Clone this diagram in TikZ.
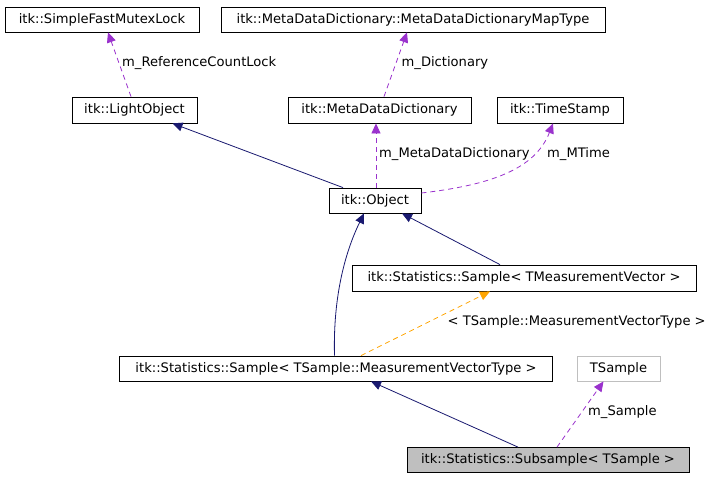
\documentclass[tikz,border=0pt]{standalone}
\usepackage{fontspec}
\setmainfont{DejaVu Sans}
\usetikzlibrary{arrows.meta,calc}
\definecolor{navyc}{HTML}{191970}
\definecolor{orch}{HTML}{9A32CD}
\definecolor{orng}{HTML}{FFA500}
\definecolor{grayc}{HTML}{BFBFBF}
\begin{document}
\begin{tikzpicture}[x=1pt,y=-1pt,
 box/.style={draw=black,line width=0.8pt,minimum height=25pt,inner sep=0pt,font=\fontsize{13.1}{15}\selectfont},
 lbl/.style={anchor=west,inner sep=0pt,font=\fontsize{13.1}{15}\selectfont},
 inh/.style={draw=navyc,line width=0.8pt,-{Triangle[length=10pt,width=9pt,fill=navyc]}},
 use/.style={draw=orch,line width=0.8pt,dash pattern=on 5pt off 4pt,-{Triangle[length=10pt,width=9pt,fill=orch]}},
 tmpl/.style={draw=orng,line width=0.8pt,dash pattern=on 5pt off 4pt,-{Triangle[length=10pt,width=9pt,fill=orng]}}]
\useasboundingbox[fill=white] (0,0) rectangle (713,477);

\node[box,minimum width=194pt] (sfml) at (102,19.5) {itk::SimpleFastMutexLock};
\node[box,minimum width=384pt] (mapt) at (413,19.5) {itk::MetaDataDictionary::MetaDataDictionaryMapType};
\node[box,minimum width=125pt,minimum height=26pt] (lo) at (134.5,110) {itk::LightObject};
\node[box,minimum width=183pt,minimum height=26pt] (mdd) at (379.5,110) {itk::MetaDataDictionary};
\node[box,minimum width=126pt,minimum height=26pt] (ts) at (560,110) {itk::TimeStamp};
\node[box,minimum width=92pt] (obj) at (375,200.5) {itk::Object};
\node[box,minimum width=344pt,minimum height=26pt] (smv) at (524,278) {itk::Statistics::Sample< TMeasurementVector >};
\node[box,minimum width=433pt] (stm) at (336,368.5) {itk::Statistics::Sample< TSample::MeasurementVectorType >};
\node[box,draw=grayc,minimum width=83pt] (tsam) at (618.5,368.5) {TSample};
\node[box,fill=grayc,minimum width=282pt] (sub) at (548,460) {itk::Statistics::Subsample< TSample >};

\draw[use] ($(lo.north)+(-3.5,0)$) -- ($(sfml.south)+(6,0)$);
\draw[use] ($(mdd.north)+(4.5,0)$) -- ($(mapt.south)+(-6,0)$);
\draw[use] ($(obj.north)+(1,0)$) -- ($(mdd.south)+(-3.5,0)$);
\draw[use] ($(obj.east)+(0,-7.5)$) .. controls +(69,-8) and +(-18,46) .. ($(ts.south)+(-7,0)$);
\draw[inh] ($(obj.north)+(-32,0)$) -- ($(lo.south)+(38,0)$);
\draw[inh] ($(smv.north)+(-24,0)$) -- ($(obj.south)+(27,0)$);
\draw[inh] ($(stm.north)+(-1.5,0)$) .. controls +(-1.5,-56) and +(-20,41) .. ($(obj.south)+(-11,0)$);
\draw[tmpl] ($(stm.north)+(25,0)$) -- ($(smv.south)+(-34,0)$);
\draw[inh] ($(sub.north)+(-30,0)$) -- ($(stm.south)+(35,0)$);
\draw[use] ($(sub.north)+(9,0)$) -- ($(tsam.south)+(-15,0)$);

\node[lbl] (l1) at (122,63) {m\_ReferenceCountLock};
\node[lbl] (l2) at (401.5,63) {m\_Dictionary};
\node[lbl] (l3) at (379,154) {m\_MetaDataDictionary};
\node[lbl] (l4) at (547,154) {m\_MTime};
\node[lbl] (l5) at (447.5,322) {< TSample::MeasurementVectorType >};
\node[lbl] (l6) at (588,412.5) {m\_Sample};
\end{tikzpicture}
\end{document}
